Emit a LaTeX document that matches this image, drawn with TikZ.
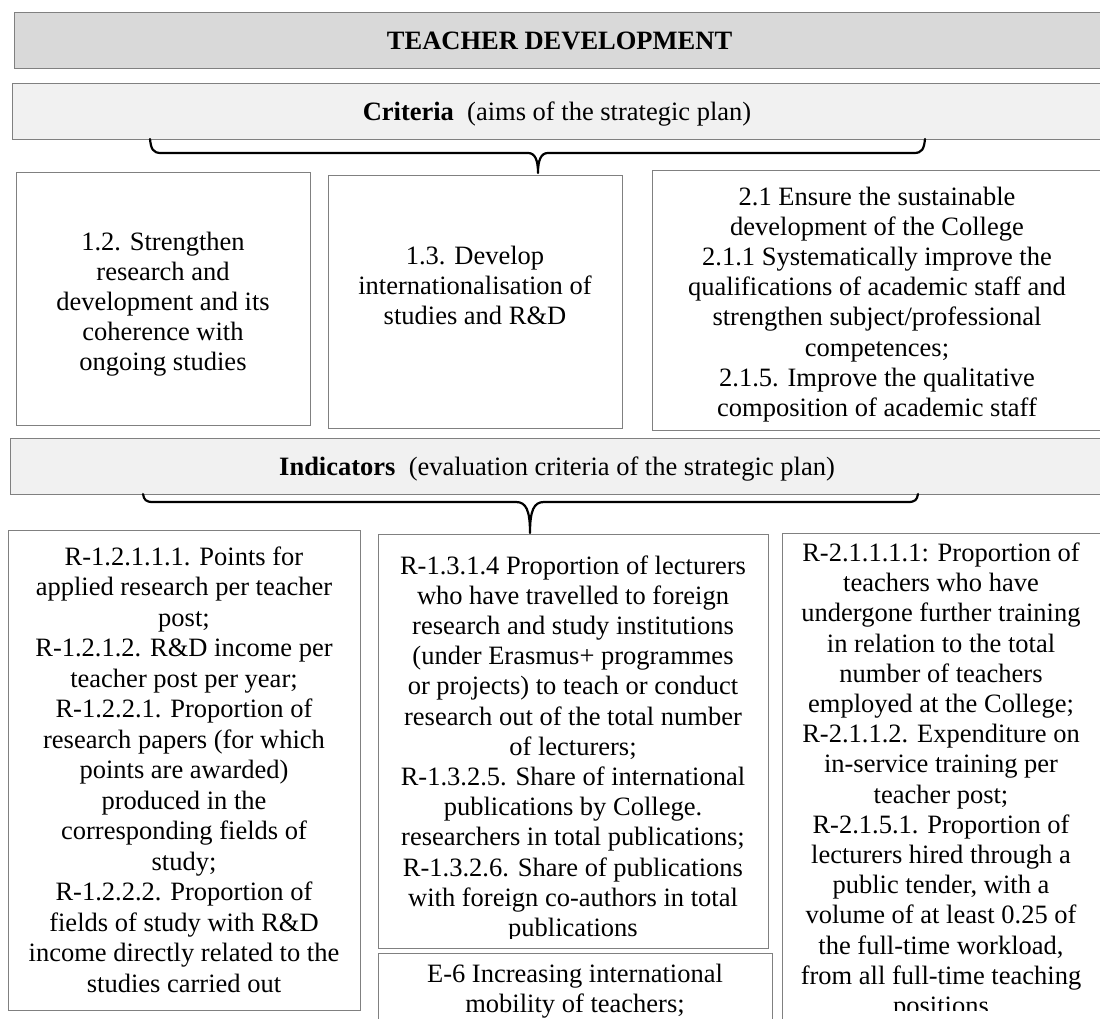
\documentclass[tikz,border=0pt]{standalone}
\usepackage{fontspec}
\setmainfont{Liberation Serif}
\definecolor{rim}{RGB}{128,128,128}
\definecolor{headfill}{RGB}{217,217,217}
\definecolor{bandfill}{RGB}{241,241,241}
\begin{document}
\begin{tikzpicture}[x=1pt,y=-1pt,
  panel/.style={draw=rim, line width=1.1pt, inner sep=0pt, anchor=north west, fill=white},
  headpanel/.style={panel, fill=headfill},
  bandpanel/.style={panel, fill=bandfill},
  headtext/.style={inner sep=0pt, anchor=base, font=\fontsize{26.5}{30}\selectfont},
  % multi-line texts are placed by the baseline of their last line
  body/.style={align=center, inner sep=0pt, anchor=base, font=\fontsize{26.5}{30.2}\selectfont},
  brace/.style={line width=2.2pt, line join=round, line cap=round}]
\clip (0,0) rectangle (1100,1018);
\fill[white] (0,0) rectangle (1100,1018);

% heading bands
\node[headpanel, minimum width=1090pt, minimum height=56pt] (title) at (14,12) {};
\node[inner sep=0pt, font=\bfseries\fontsize{26.5}{30}\selectfont] (ttitle) at (title.center) {TEACHER DEVELOPMENT};

\node[bandpanel, minimum width=1092pt, minimum height=56pt] (crit) at (12,83) {};
\node[headtext] (tcrit) at (557,120) {\textbf{Criteria}\ \ (aims of the strategic plan)};

% criteria panels
\node[panel, minimum width=294pt, minimum height=253pt] (c1) at (16,172) {};
\node[panel, minimum width=294pt, minimum height=253pt] (c2) at (328,175) {};
\node[panel, minimum width=452pt, minimum height=260pt] (c3) at (652,170) {};

\node[body] (tc1) at (163,370.8) {1.2. Strengthen\\research and\\development and its\\coherence with\\ongoing studies};
\node[body] (tc2) at (475,324.4) {1.3. Develop\\internationalisation of\\studies and R\&D};
\begin{scope}
  \clip (c3.north west) rectangle ([yshift=10pt]c3.south east);
  \node[body] (tc3) at (877,416.4) {2.1 Ensure the sustainable\\development of the College\\2.1.1 Systematically improve the\\qualifications of academic staff and\\strengthen subject/professional\\competences;\\2.1.5. Improve the qualitative\\composition of academic staff};
\end{scope}

% brace from the criteria band
\coordinate (b1l) at (150,139);
\coordinate (b1t) at (538,173);
\coordinate (b1r) at (925,139);
\draw[brace] (b1l) .. controls (151,149) and (153,153) .. (161,153) -- (528,153)
  .. controls (535,153) and (538,160) .. (b1t)
  .. controls (538,160) and (541,153) .. (548,153) -- (914,153)
  .. controls (922,153) and (924,149) .. (b1r);

% indicators band
\node[bandpanel, minimum width=1094pt, minimum height=56pt] (ind) at (10,438) {};
\node[headtext] (tind) at (557,475) {\textbf{Indicators}\ \ (evaluation criteria of the strategic plan)};

% brace from the indicators band
\coordinate (b2l) at (143,494);
\coordinate (b2t) at (530,533);
\coordinate (b2r) at (918,494);
\draw[brace] (b2l) .. controls (144,500) and (146,502) .. (153,502) -- (516,502)
  .. controls (526,502) and (530,510) .. (b2t)
  .. controls (530,510) and (534,502) .. (544,502) -- (908,502)
  .. controls (915,502) and (917,500) .. (b2r);

% indicator panels
\node[panel, minimum width=352pt, minimum height=480pt] (iA) at (8,530) {};
\node[panel, minimum width=390pt, minimum height=414pt] (iB) at (378,534) {};
\node[panel, minimum width=322pt, minimum height=500pt] (iC) at (782,533) {};
\node[panel, minimum width=394pt, minimum height=90pt] (iD) at (378,953) {};

\node[body, font=\fontsize{26.5}{30.5}\selectfont] (tA) at (184,992) {R-1.2.1.1.1. Points for\\applied research per teacher\\post;\\R-1.2.1.2. R\&D income per\\teacher post per year;\\R-1.2.2.1. Proportion of\\research papers (for which\\points are awarded)\\produced in the\\corresponding fields of\\study;\\R-1.2.2.2. Proportion of\\fields of study with R\&D\\income directly related to the\\studies carried out};
\begin{scope}
  \clip (iB.north west) rectangle ([yshift=11pt]iB.south east);
  \node[body] (tB) at (573,936.4) {R-1.3.1.4 Proportion of lecturers\\who have travelled to foreign\\research and study institutions\\(under Erasmus+ programmes\\or projects) to teach or conduct\\research out of the total number\\of lecturers;\\R-1.3.2.5. Share of international\\publications by College.\\researchers in total publications;\\R-1.3.2.6. Share of publications\\with foreign co-authors in total\\publications};
\end{scope}
\begin{scope}
  \clip (iC.north west) rectangle (1100,1010);
  \node[body] (tC) at (941,1014.5) {R-2.1.1.1.1: Proportion of\\teachers who have\\undergone further training\\in relation to the total\\number of teachers\\employed at the College;\\R-2.1.1.2. Expenditure on\\in-service training per\\teacher post;\\R-2.1.5.1. Proportion of\\lecturers hired through a\\public tender, with a\\volume of at least 0.25 of\\the full-time workload,\\from all full-time teaching\\positions};
\end{scope}
\node[body] (tD) at (575,1012.2) {E-6 Increasing international\\mobility of teachers;};
\end{tikzpicture}
\end{document}
